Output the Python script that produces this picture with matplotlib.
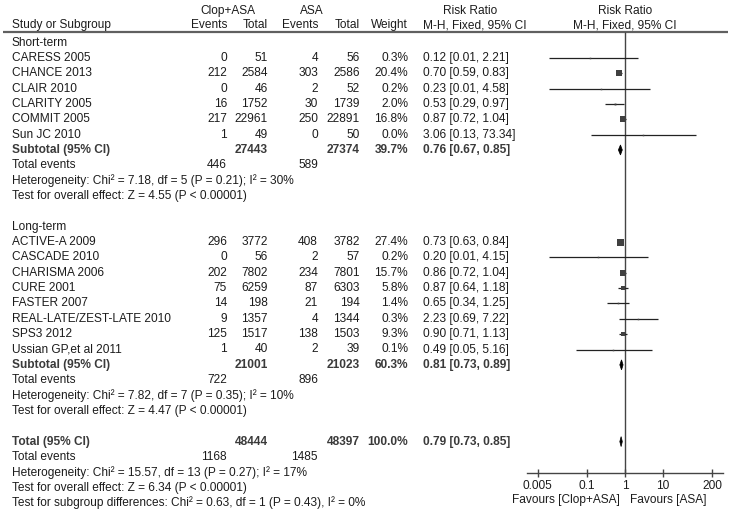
import numpy as np
import matplotlib
matplotlib.use("Agg")
import matplotlib.pyplot as plt
from matplotlib.patches import Polygon

plt.rcParams['font.family'] = ['Liberation Sans', 'DejaVu Sans']

# ---------------- data ----------------
short_studies = ["CARESS 2005", "CHANCE 2013", "CLAIR 2010", "CLARITY 2005", "COMMIT 2005", "Sun JC 2010"]
short_ev_c = [0, 212, 0, 16, 217, 1]
short_tot_c = [51, 2584, 46, 1752, 22961, 49]
short_ev_a = [4, 303, 2, 30, 250, 0]
short_tot_a = [56, 2586, 52, 1739, 22891, 50]
short_w = [0.3, 20.4, 0.2, 2.0, 16.8, 0.0]
short_rr = [0.12, 0.70, 0.23, 0.53, 0.87, 3.06]
short_lo = [0.01, 0.59, 0.01, 0.29, 0.72, 0.13]
short_hi = [2.21, 0.83, 4.58, 0.97, 1.04, 73.34]
short_sub = dict(tot_c=27443, tot_a=27374, w=39.7, rr=0.76, lo=0.67, hi=0.85, ev_c=446, ev_a=589,
                 het="Heterogeneity: Chi\u00b2 = 7.18, df = 5 (P = 0.21); I\u00b2 = 30%",
                 test="Test for overall effect: Z = 4.55 (P < 0.00001)")

long_studies = ["ACTIVE-A 2009", "CASCADE 2010", "CHARISMA 2006", "CURE 2001", "FASTER 2007",
                "REAL-LATE/ZEST-LATE 2010", "SPS3 2012", "Ussian GP,et al 2011"]
long_ev_c = [296, 0, 202, 75, 14, 9, 125, 1]
long_tot_c = [3772, 56, 7802, 6259, 198, 1357, 1517, 40]
long_ev_a = [408, 2, 234, 87, 21, 4, 138, 2]
long_tot_a = [3782, 57, 7801, 6303, 194, 1344, 1503, 39]
long_w = [27.4, 0.2, 15.7, 5.8, 1.4, 0.3, 9.3, 0.1]
long_rr = [0.73, 0.20, 0.86, 0.87, 0.65, 2.23, 0.90, 0.49]
long_lo = [0.63, 0.01, 0.72, 0.64, 0.34, 0.69, 0.71, 0.05]
long_hi = [0.84, 4.15, 1.04, 1.18, 1.25, 7.22, 1.13, 5.16]
long_sub = dict(tot_c=21001, tot_a=21023, w=60.3, rr=0.81, lo=0.73, hi=0.89, ev_c=722, ev_a=896,
                het="Heterogeneity: Chi\u00b2 = 7.82, df = 7 (P = 0.35); I\u00b2 = 10%",
                test="Test for overall effect: Z = 4.47 (P < 0.00001)")

total = dict(tot_c=48444, tot_a=48397, w=100.0, rr=0.79, lo=0.73, hi=0.85, ev_c=1168, ev_a=1485,
             het="Heterogeneity: Chi\u00b2 = 15.57, df = 13 (P = 0.27); I\u00b2 = 17%",
             test="Test for overall effect: Z = 6.34 (P < 0.00001)",
             sub="Test for subgroup differences: Chi\u00b2 = 0.63, df = 1 (P = 0.43), I\u00b2 = 0%")

tick_vals = [0.005, 0.1, 1, 10, 200]
tick_labels = ["0.005", "0.1", "1", "10", "200"]

# ---------------- layout ----------------
W, H = 738, 516
fig = plt.figure(figsize=(W / 100, H / 100), dpi=100)
ax = fig.add_axes([0, 0, 1, 1])
ax.set_xlim(0, W)
ax.set_ylim(H, 0)
ax.axis('off')

FS = 8.55
TXT = '#1c1c1c'
BTXT = '#3a3a3a'
X_LAB = 12
X_EVC, X_TOTC, X_EVA, X_TOTA, X_W, X_CI = 227, 268, 318, 360, 408, 423

Y0, DY = 42.5, 15.35
def rowy(r):
    return Y0 + DY * r

def t(x, y, s, ha='left', bold=False, color=None):
    ax.text(x, y, s, ha=ha, va='center', fontsize=FS,
            fontweight='bold' if bold else 'normal',
            color=color or (BTXT if bold else TXT))

# headers
t(228, 11, "Clop+ASA", ha='center')
t(312, 11, "ASA", ha='center')
t(470, 11, "Risk Ratio", ha='center')
t(625, 11, "Risk Ratio", ha='center')
t(X_LAB, 25, "Study or Subgroup")
t(X_EVC, 25, "Events", ha='right')
t(X_TOTC, 25, "Total", ha='right')
t(X_EVA, 25, "Events", ha='right')
t(X_TOTA, 25, "Total", ha='right')
t(X_W, 25, "Weight", ha='right')
t(X_CI, 25, "M-H, Fixed, 95% CI")
t(625, 25, "M-H, Fixed, 95% CI", ha='center')
ax.plot([3, 728], [31.5, 31.5], color='#606060', lw=1.6, solid_capstyle='butt')

# forest axes
XL = (527, 723)
fax = fig.add_axes([XL[0] / W, 0, (XL[1] - XL[0]) / W, 1])
fax.set_xscale('log')
half = (XL[1] - XL[0]) / 2 / 38.0
fax.set_xlim(10 ** -half, 10 ** half)
fax.set_ylim(H, 0)
fax.patch.set_alpha(0)
for s in ['top', 'left', 'right']:
    fax.spines[s].set_visible(False)
AXY = 473
fax.spines['bottom'].set_position(('data', AXY))
fax.spines['bottom'].set_color('#444444')
fax.spines['bottom'].set_linewidth(1.0)
fax.set_yticks([])
fax.set_xticks(tick_vals)
fax.set_xticklabels(tick_labels)
fax.minorticks_off()
fax.tick_params(axis='x', direction='inout', length=6, width=1.0, color='#444444',
                labelsize=FS, labelcolor=TXT, pad=2)
fax.vlines(1, 31.5, AXY, color='#444444', lw=1.0)

def study_row(r, name, evc, totc, eva, tota, w, rr, lo, hi):
    y = rowy(r)
    t(X_LAB, y, name)
    t(X_EVC, y, str(evc), ha='right')
    t(X_TOTC, y, str(totc), ha='right')
    t(X_EVA, y, str(eva), ha='right')
    t(X_TOTA, y, str(tota), ha='right')
    t(X_W, y, f"{w:.1f}%", ha='right')
    t(X_CI, y, f"{rr:.2f} [{lo:.2f}, {hi:.2f}]")
    fax.hlines(y, lo, hi, color='#222222', lw=0.9)
    px = max(1.5, 7.0 * np.sqrt(w / 27.4))
    fax.plot([rr], [y], marker='s', ms=px * 0.72, color='#404040', mec='#404040', mew=0)

def summary_rows(r, d, label):
    y = rowy(r)
    t(X_LAB, y, label, bold=True)
    t(X_TOTC, y, str(d['tot_c']), ha='right', bold=True)
    t(X_TOTA, y, str(d['tot_a']), ha='right', bold=True)
    t(X_W, y, f"{d['w']:.1f}%", ha='right', bold=True)
    t(X_CI, y, f"{d['rr']:.2f} [{d['lo']:.2f}, {d['hi']:.2f}]", bold=True)
    dia = Polygon([(d['lo'], y), (d['rr'], y - 5), (d['hi'], y), (d['rr'], y + 5)],
                  closed=True, facecolor='black', edgecolor='black', lw=0.5)
    fax.add_patch(dia)
    t(X_LAB, rowy(r + 1), "Total events")
    t(X_EVC, rowy(r + 1), str(d['ev_c']), ha='right')
    t(X_EVA, rowy(r + 1), str(d['ev_a']), ha='right')
    t(X_LAB, rowy(r + 2), d['het'])
    t(X_LAB, rowy(r + 3), d['test'])

# short-term
t(X_LAB, rowy(0), "Short-term")
for i in range(len(short_studies)):
    study_row(1 + i, short_studies[i], short_ev_c[i], short_tot_c[i], short_ev_a[i],
              short_tot_a[i], short_w[i], short_rr[i], short_lo[i], short_hi[i])
summary_rows(7, short_sub, "Subtotal (95% CI)")

# long-term
t(X_LAB, rowy(12), "Long-term")
for i in range(len(long_studies)):
    study_row(13 + i, long_studies[i], long_ev_c[i], long_tot_c[i], long_ev_a[i],
              long_tot_a[i], long_w[i], long_rr[i], long_lo[i], long_hi[i])
summary_rows(21, long_sub, "Subtotal (95% CI)")

# overall
summary_rows(26, total, "Total (95% CI)")
t(X_LAB, rowy(30), total['sub'])

# favours labels
t(620, 500, "Favours [Clop+ASA]", ha='right')
t(630, 500, "Favours [ASA]", ha='left')

fig.savefig("out.png", dpi=100)
